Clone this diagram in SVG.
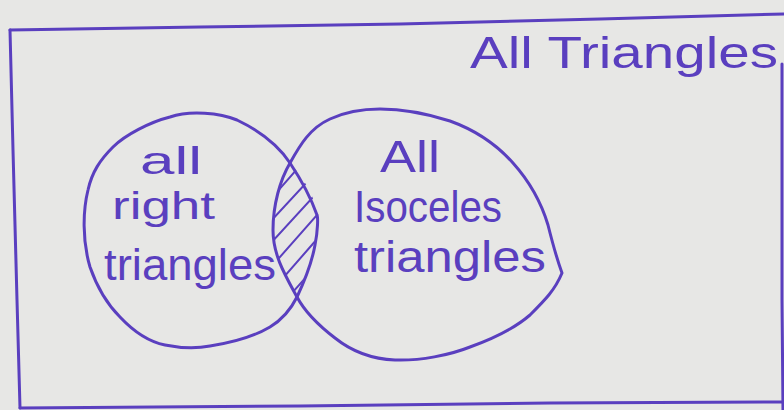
<svg xmlns="http://www.w3.org/2000/svg" width="784" height="410" viewBox="0 0 784 410">
<defs>
<style>
.ink{fill:none;stroke:#5a3fbf;stroke-width:3;stroke-linejoin:round;stroke-linecap:round}
.hatch{fill:none;stroke:#5a3fbf;stroke-width:2}
.lbl{font-family:"Liberation Sans","DejaVu Sans",sans-serif;fill:#5a3fbf;font-size:44px}
.sm{font-size:38px}
</style>
<clipPath id="lens">
<path d="M290,163 C305,180 317,200 317,217 C317,240 310,262 297,297 C285,275 273,255 273,230 C273,205 280,180 290,163 Z"/>
</clipPath>
</defs>
<rect x="0" y="0" width="784" height="410" fill="#e7e7e5"/>
<g id="frame">
<path class="ink" d="M10,30 L200,27 L400,24 L600,19 L784,14"/>
<path class="ink" d="M10,30 L13,150 L17,300 L20,408"/>
<path class="ink" d="M20,408 L300,406 L550,403 L784,402"/>
<path class="ink" d="M782,64 L782,300 L783,410"/>
</g>
<g id="right-triangles">
<path class="ink" d="M290,163 C280,148 262,132 237,120 C220,113 190,110 170,117 C150,122 125,135 113,147 C100,160 92,172 88,190 C83,210 82,240 90,267 C98,290 108,305 120,317 C135,333 150,342 165,345 C180,348 195,349 210,346 C230,343 253,337 270,327 C285,318 292,307 297,297 C305,280 312,262 315,245 C318,230 318,217 317,215 C310,195 300,178 290,163"/>
<text class="lbl sm" x="140" y="174" textLength="62" lengthAdjust="spacingAndGlyphs">all</text>
<text class="lbl sm" x="112" y="219" textLength="103" lengthAdjust="spacingAndGlyphs">right</text>
<text class="lbl" x="104" y="280" textLength="172" lengthAdjust="spacingAndGlyphs">triangles</text>
</g>
<g id="isosceles-triangles">
<path class="ink" d="M290,163 C300,145 310,128 330,119 C345,112 360,109 380,109 C400,109 425,113 450,121 C475,130 497,145 513,163 C530,182 542,205 548,225 C553,245 558,262 562,273 C555,290 545,300 530,315 C515,328 495,338 470,347 C450,355 420,361 395,360 C370,359 350,350 335,338 C318,325 305,312 297,297 C285,275 273,255 273,230 C273,205 280,180 290,163"/>
<text class="lbl" x="380" y="172" textLength="60" lengthAdjust="spacingAndGlyphs">All</text>
<text class="lbl" x="354" y="222" textLength="148" lengthAdjust="spacingAndGlyphs">Isoceles</text>
<text class="lbl" x="354" y="272" textLength="192" lengthAdjust="spacingAndGlyphs">triangles</text>
</g>
<g id="intersection" clip-path="url(#lens)">
<path class="hatch" d="M270,200 L305,160 M270,222 L320,168 M270,244 L325,184 M272,266 L325,206 M276,286 L325,230 M284,302 L325,256 M292,318 L325,280"/>
</g>
<g id="title">
<text class="lbl" x="470" y="68" textLength="308" lengthAdjust="spacingAndGlyphs">All Triangles</text>
</g>
</svg>
